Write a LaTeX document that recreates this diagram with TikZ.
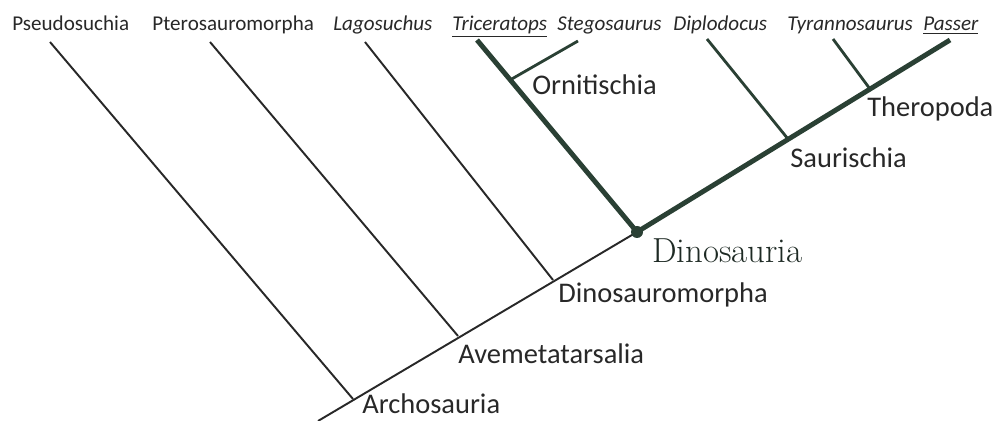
\documentclass[tikz,border=0pt]{standalone}
\usepackage{fontspec}
\newfontfamily\cladefont{Carlito}
\definecolor{inkgray}{RGB}{40,40,40}
\definecolor{dinogreen}{RGB}{42,64,52}
\definecolor{dinotext}{RGB}{30,42,36}
\begin{document}
\begin{tikzpicture}[x=0.02cm,y=-0.02cm,
  taxon/.style={anchor=base west,inner sep=0pt,text=inkgray,
    font=\cladefont\fontsize{12}{14}\selectfont},
  clade/.style={anchor=base west,inner sep=0pt,text=inkgray,
    font=\cladefont\fontsize{16.2}{19}\selectfont},
  branch/.style={draw=inkgray,line width=1.1pt},
  midbranch/.style={draw=dinogreen,line width=1.6pt},
  dinobranch/.style={draw=dinogreen,line width=2.8pt}]
  \useasboundingbox (0,0) rectangle (999,421);

  % Taxa
  \node[taxon] (pseudo) at (12,31) {Pseudosuchia};
  \node[taxon] (ptero) at (152,31) {Pterosauromorpha};
  \node[taxon] (lago) at (333,31) {\itshape Lagosuchus};
  \node[taxon] (trice) at (452,31) {\itshape\underline{Triceratops}};
  \node[taxon] (stego) at (557,31) {\itshape Stegosaurus};
  \node[taxon] (diplo) at (673,31) {\itshape Diplodocus};
  \node[taxon] (tyran) at (787,31) {\itshape Tyrannosaurus};
  \node[taxon] (passer) at (923,31) {\itshape\underline{Passer}};

  % Ana gövde
  \coordinate (root) at (318,421);
  \coordinate (arch) at (353,399);
  \coordinate (aveme) at (458,336);
  \coordinate (dmorph) at (553,280);
  \coordinate (dino) at (637,232);
  \coordinate (sauri) at (788,139);
  \coordinate (thero) at (870,89);
  \coordinate (ornit) at (510,80);

  % Uçlar
  \coordinate (pseudotip) at (50,42);
  \coordinate (pterotip) at (210,42);
  \coordinate (lagotip) at (365,42);
  \coordinate (tricetip) at (477,40);
  \coordinate (stegotip) at (578,41);
  \coordinate (diplotip) at (707,39);
  \coordinate (tyrantip) at (833,39);
  \coordinate (passertip) at (950,40);

  \draw[branch] (root) -- (dino);
  \draw[branch] (pseudotip) -- (arch);
  \draw[branch] (pterotip) -- (aveme);
  \draw[branch] (lagotip) -- (dmorph);

  \draw[dinobranch] (tricetip) -- (dino) -- (passertip);
  \draw[midbranch] (stegotip) -- (ornit);
  \draw[midbranch] (diplotip) -- (sauri);
  \draw[midbranch] (tyrantip) -- (thero);
  \fill[dinogreen] (dino) circle (0.12cm);

  % Klad adları
  \node[clade] (ornitlbl) at (532,95) {Ornitischia};
  \node[clade] (therolbl) at (867,117) {Theropoda};
  \node[clade] (saurilbl) at (790,168) {Saurischia};
  \node[anchor=base west,inner sep=0pt,text=dinotext,font=\fontsize{19.8}{23}\selectfont]
    (dinolbl) at (652,263) {Dinosauria};
  \node[clade] (dmorphlbl) at (558,303) {Dinosauromorpha};
  \node[clade] (avemelbl) at (458,364) {Avemetatarsalia};
  \node[clade] (archlbl) at (362,414) {Archosauria};
\end{tikzpicture}
\end{document}
